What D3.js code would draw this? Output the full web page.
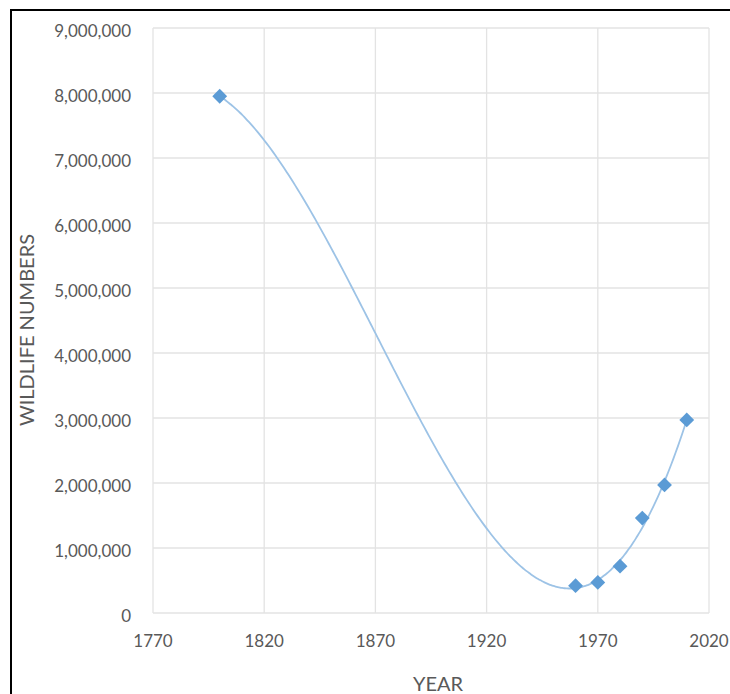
<!DOCTYPE html>
<html>
<head>
<meta charset="utf-8">
<script src="https://cdn.jsdelivr.net/npm/d3@7"></script>
<style>
  html, body { margin: 0; padding: 0; background: #fff; }
  svg { display: block; }
  text { font-family: Lato, "Open Sans", sans-serif; fill: #595959; }
</style>
</head>
<body>
<svg id="chart" width="730" height="694"></svg>
<script>
const years = [1800, 1960, 1970, 1980, 1990, 2000, 2010];
const wildlife = [7950000, 420000, 470000, 720000, 1460000, 1970000, 2970000];
const xTicks = [1770, 1820, 1870, 1920, 1970, 2020];
const yTicks = [0, 1000000, 2000000, 3000000, 4000000, 5000000, 6000000, 7000000, 8000000, 9000000];
const xTitle = "YEAR";
const yTitle = "WILDLIFE NUMBERS";
const trendOrder = 3; // polynomial (cubic) trendline, as in the spreadsheet chart

// least-squares polynomial trendline computed from the data arrays
function polyFit(xs, ys, order) {
  const n = order + 1;
  const A = Array.from({length: n}, () => new Array(n + 1).fill(0));
  xs.forEach((xv, k) => {
    const t = (xv - 1960) / 10;
    for (let i = 0; i < n; i++) {
      for (let j = 0; j < n; j++) A[i][j] += Math.pow(t, i + j);
      A[i][n] += Math.pow(t, i) * ys[k];
    }
  });
  for (let i = 0; i < n; i++) {
    let p = i;
    for (let r = i + 1; r < n; r++) if (Math.abs(A[r][i]) > Math.abs(A[p][i])) p = r;
    [A[i], A[p]] = [A[p], A[i]];
    for (let r = 0; r < n; r++) if (r !== i) {
      const f = A[r][i] / A[i][i];
      for (let c = i; c <= n; c++) A[r][c] -= f * A[i][c];
    }
  }
  const coef = A.map((row, i) => row[n] / row[i]);
  return xv => { const t = (xv - 1960) / 10; return coef.reduce((s, c, i) => s + c * Math.pow(t, i), 0); };
}

(function () {
const svg = d3.select("#chart");
const pLeft = 153, pRight = 709, pTop = 28, pBottom = 613;
const x = d3.scaleLinear().domain([1770, 2020]).range([pLeft, pRight]);
const y = d3.scaleLinear().domain([0, 9000000]).range([pBottom, pTop]);

// outer frame
svg.append("rect").attr("x", 11).attr("y", 10).attr("width", 740).attr("height", 720)
  .attr("fill", "none").attr("stroke", "#000").attr("stroke-width", 2);

// gridlines
const grid = svg.append("g");
grid.selectAll("line.h").data(yTicks).join("line").attr("class", "h")
  .attr("x1", pLeft).attr("x2", pRight).attr("y1", d => y(d)).attr("y2", d => y(d))
  .attr("stroke", "#e3e3e3").attr("stroke-width", 1.3);
grid.selectAll("line.v").data(xTicks).join("line").attr("class", "v")
  .attr("y1", pTop).attr("y2", pBottom).attr("x1", d => x(d)).attr("x2", d => x(d))
  .attr("stroke", "#e3e3e3").attr("stroke-width", 1.3);

// tick labels
const fmt = d3.format(",");
svg.append("g").selectAll("text").data(yTicks).join("text")
  .attr("x", 131).attr("y", d => y(d) + 5).attr("text-anchor", "end").attr("dominant-baseline", "middle")
  .attr("font-size", 17).text(d => fmt(d));
svg.append("g").selectAll("text").data(xTicks).join("text")
  .attr("x", d => x(d)).attr("y", 643).attr("text-anchor", "middle").attr("dominant-baseline", "middle")
  .attr("font-size", 17).text(d => d);

// axis titles
svg.append("text").attr("x", 438).attr("y", 686).attr("text-anchor", "middle").attr("dominant-baseline", "middle")
  .attr("font-size", 20).text(xTitle);
svg.append("text").attr("transform", "translate(29,330) rotate(-90)")
  .attr("text-anchor", "middle").attr("dominant-baseline", "middle").attr("font-size", 20).text(yTitle);

// trendline
const f = polyFit(years, wildlife, trendOrder);
const xs = d3.range(d3.min(years), d3.max(years) + 0.01, 1);
svg.append("path").datum(xs).attr("d", d3.line().x(d => x(d)).y(d => y(f(d))).curve(d3.curveBasis))
  .attr("fill", "none").attr("stroke", "#9dc3e6").attr("stroke-width", 1.8);

// markers
const pts = years.map((yr, i) => [yr, wildlife[i]]);
svg.append("g").selectAll("path").data(pts).join("path")
  .attr("d", d3.symbol().type(d3.symbolSquare).size(110))
  .attr("transform", d => `translate(${x(d[0])},${y(d[1])}) rotate(45)`)
  .attr("fill", "#5b9bd5");
})();
</script>
</body>
</html>
